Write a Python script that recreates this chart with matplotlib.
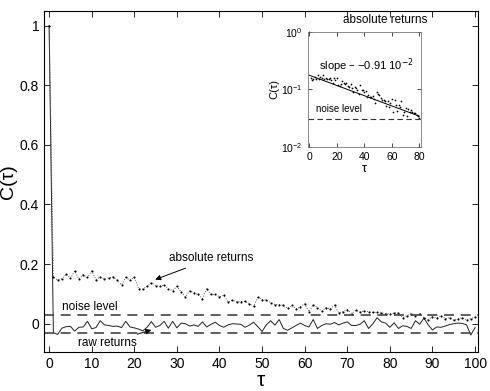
import numpy as np
import matplotlib
matplotlib.use("Agg")
import matplotlib.pyplot as plt
from matplotlib.ticker import FixedLocator, FixedFormatter

plt.rcParams['font.family'] = ['Liberation Sans', 'DejaVu Sans']

# autocorrelation C(tau), tau = 0..100
tau = np.arange(0, 101)
abs_returns = [1.0,
    0.157, 0.146, 0.151, 0.166, 0.152, 0.177, 0.150, 0.164, 0.155, 0.177,
    0.148, 0.157, 0.150, 0.153, 0.157, 0.146, 0.130, 0.155, 0.146, 0.155,
    0.118, 0.116, 0.125, 0.137, 0.128, 0.125, 0.130, 0.116, 0.111, 0.125,
    0.107, 0.090, 0.110, 0.104, 0.098, 0.084, 0.118, 0.098, 0.098, 0.090,
    0.095, 0.073, 0.079, 0.073, 0.074, 0.075, 0.067, 0.058, 0.088, 0.081,
    0.079, 0.071, 0.064, 0.064, 0.062, 0.051, 0.062, 0.049, 0.057, 0.067,
    0.040, 0.064, 0.054, 0.042, 0.054, 0.049, 0.062, 0.036, 0.040, 0.047,
    0.034, 0.045, 0.040, 0.043, 0.040, 0.038, 0.038, 0.036, 0.034, 0.032,
    0.036, 0.036, 0.020, 0.027, 0.034, 0.027, 0.034, 0.020, 0.014, 0.023,
    0.020, 0.027, 0.017, 0.020, 0.012, 0.017, 0.020, 0.012, 0.017, 0.022]
raw_returns = [1.0,
    -0.030, -0.036, -0.015, -0.010, -0.009, -0.025, -0.012, -0.011, 0.008, -0.017,
    -0.013, 0.010, -0.004, -0.006, -0.009, -0.008, -0.013, 0.008, -0.011, -0.014,
    -0.018, -0.024, -0.012, 0.007, -0.012, -0.006, 0.008, -0.015, 0.008, -0.014,
    0.002, 0.000, -0.008, -0.004, -0.009, 0.006, -0.011, -0.002, 0.005, -0.006,
    -0.012, -0.004, 0.000, -0.001, -0.002, -0.012, -0.005, 0.005, -0.010, -0.026,
    -0.004, 0.010, -0.005, 0.014, -0.016, -0.022, -0.014, -0.006, 0.002, -0.006,
    -0.011, 0.014, -0.016, -0.006, 0.000, -0.002, 0.004, -0.004, 0.002, 0.006,
    -0.006, -0.006, -0.002, 0.010, -0.016, 0.000, 0.020, 0.006, 0.002, -0.012,
    0.003, -0.016, -0.007, -0.009, -0.016, 0.010, -0.002, 0.019, -0.004, -0.021,
    -0.011, -0.012, -0.008, -0.003, 0.000, 0.002, 0.001, -0.004, -0.038, -0.013]
noise_level = 0.03

# fitted line in the inset (end points)
fit_tau = [0, 80]
fit_C = [0.175, 0.034]

fig = plt.figure(figsize=(4.9, 3.91), dpi=100)
ax = fig.add_axes([0.0898, 0.0997, 0.8867, 0.8722])

ax.plot(tau, raw_returns, '-', color='#222222', lw=0.7)
ax.plot(tau, abs_returns, ':', color='#555555', lw=0.7)
ax.plot(tau, abs_returns, '.', color='k', ms=3, mew=0)
ax.axhline(noise_level, color='#444444', lw=1.2, ls=(0, (6, 4)))
ax.axhline(-noise_level, color='#444444', lw=1.2, ls=(0, (6, 4)))

ax.set_xlim(-1.2, 100.8)
ax.set_ylim(-0.095, 1.049)
ax.xaxis.set_major_locator(FixedLocator(np.arange(0, 101, 10)))
ax.yaxis.set_major_locator(FixedLocator([0, 0.2, 0.4, 0.6, 0.8, 1.0]))
ax.yaxis.set_major_formatter(FixedFormatter(['0', '0.2', '0.4', '0.6', '0.8', '1']))
ax.tick_params(direction='in', top=True, right=True, labelsize=10, length=4, width=0.6)
for s in ax.spines.values():
    s.set_linewidth(0.8)
ax.set_xlabel('τ', fontsize=15, labelpad=0)
ax.set_ylabel('C(τ)', fontsize=14)
ax.yaxis.set_label_coords(-0.062, 0.5)

ax.annotate('absolute returns', xy=(24.9, 0.148), xytext=(28.2, 0.219),
            fontsize=8.5, va='center', ha='left',
            arrowprops=dict(arrowstyle='-|>', color='k', lw=0.7,
                            mutation_scale=8, shrinkA=2, shrinkB=0))
ax.annotate('raw returns', xy=(24.0, -0.021), xytext=(6.7, -0.066),
            fontsize=8.5, va='center', ha='left',
            arrowprops=dict(arrowstyle='-|>', color='k', lw=0.7,
                            mutation_scale=8, shrinkA=1, shrinkB=0))
ax.text(3.0, 0.036, 'noise level', fontsize=8.5, va='bottom', ha='left')

# inset: absolute returns on a log scale
ins = fig.add_axes([0.628, 0.6248, 0.2306, 0.294])
ins.semilogy(tau[:81], abs_returns[:81], '.', color='k', ms=2.5, mew=0, clip_on=False)
ins.semilogy(fit_tau, fit_C, '-', color='k', lw=0.7)
ins.axhline(noise_level, color='#333333', lw=0.8, ls=(0, (5, 3)))
ins.set_xlim(-1.2, 81)
ins.set_ylim(1e-2, 1)
ins.xaxis.set_major_locator(FixedLocator([0, 20, 40, 60, 80]))
ins.yaxis.set_major_locator(FixedLocator([1e-2, 1e-1, 1]))
ins.yaxis.set_minor_locator(FixedLocator([]))
ins.tick_params(direction='in', top=True, right=True, labelsize=7.5, length=3, width=0.5)
for s in ins.spines.values():
    s.set_linewidth(0.6)
    s.set_color('#777777')
ins.set_xlabel('τ', fontsize=9, labelpad=1)
ins.set_ylabel('C(τ)', fontsize=8, labelpad=1)
ins.text(7.3, 0.26, 'slope \u2013 \u22120.91 10$^{-2}$', fontsize=8, va='center', ha='left')
ins.text(4.9, 0.037, 'noise level', fontsize=7, va='bottom', ha='left')
fig.text(385 / 490, 1 - 20 / 391, 'absolute returns', fontsize=8.5, ha='center', va='center')

fig.savefig('out.png', dpi=100)
